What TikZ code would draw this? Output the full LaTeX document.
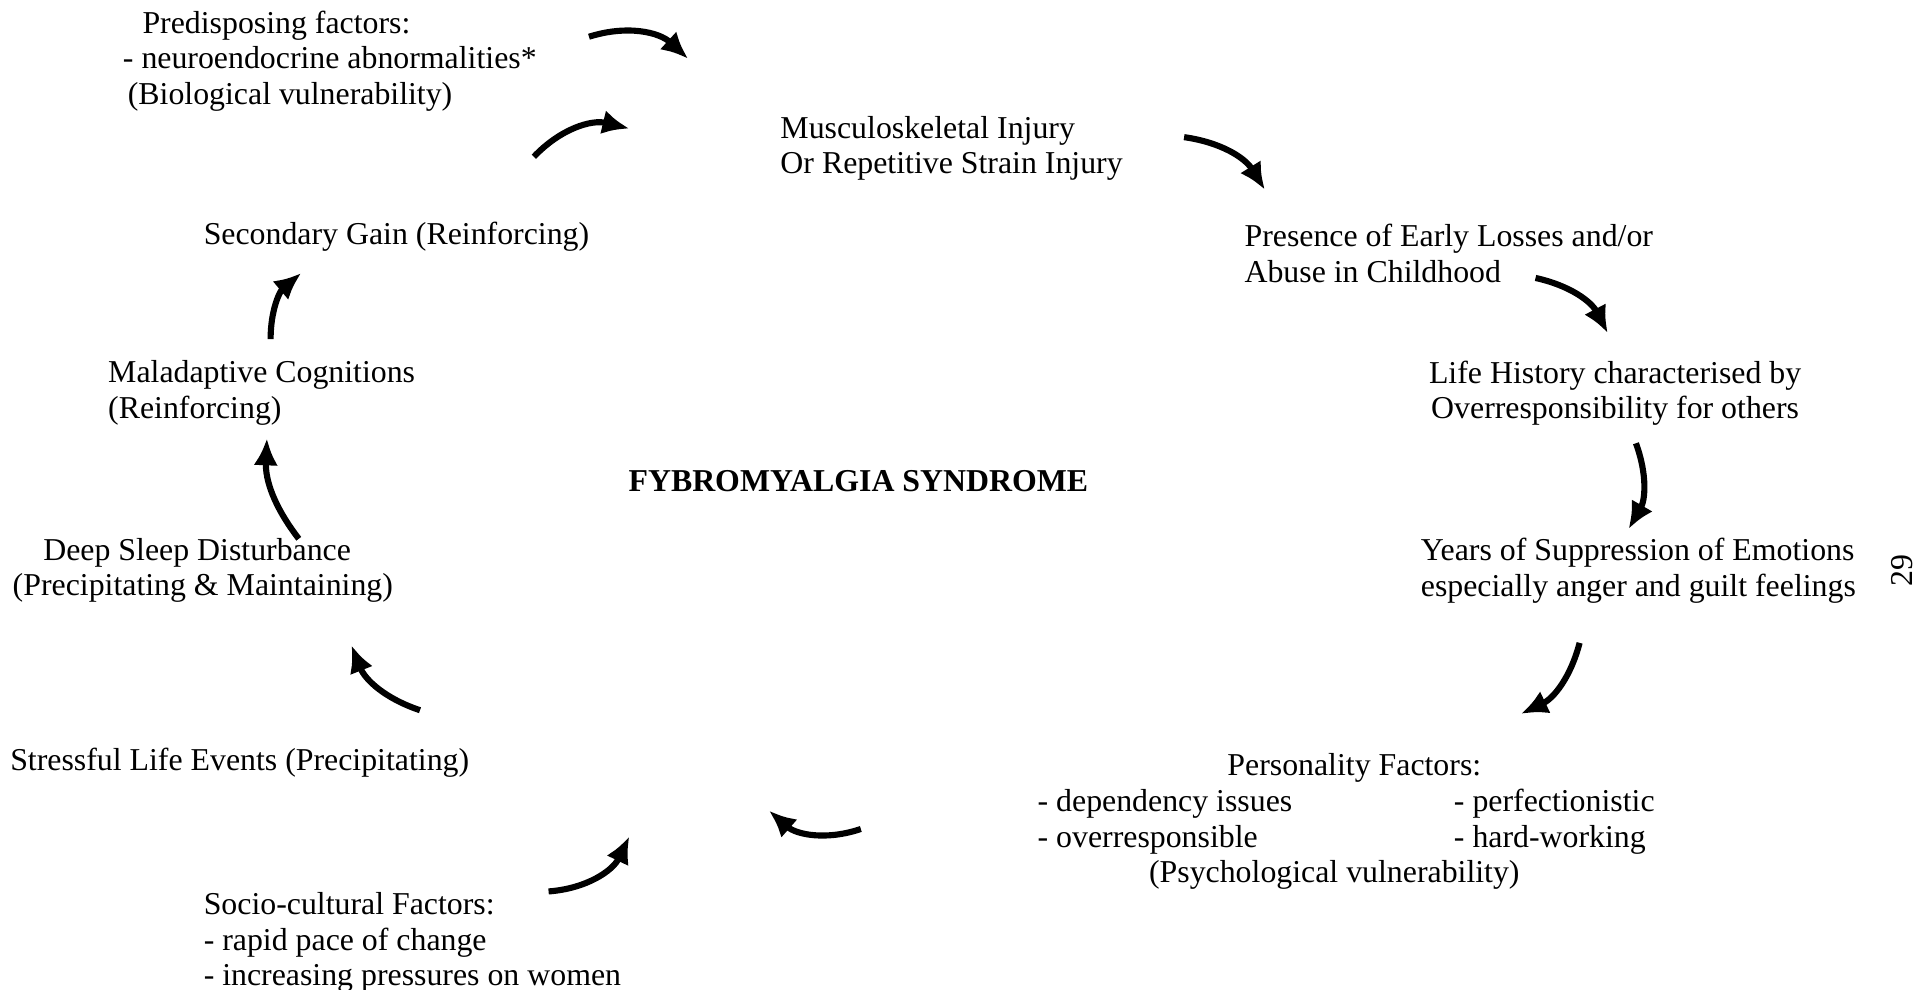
\documentclass[tikz,border=0pt]{standalone}
\usepackage{fontspec}
\setmainfont{Liberation Serif}
\usetikzlibrary{arrows.meta}
\begin{document}
\begin{tikzpicture}[x=0.5pt,y=-0.5pt,
    txt/.style={font=\fontsize{13pt}{14.5pt}\selectfont, inner sep=0pt, align=left, anchor=west},
    cyc/.style={line width=2.5pt, -{Latex[length=11pt,width=10pt]}}]
    \useasboundingbox (0,0) rectangle (1568,808);
    % texts round the cycle
    \node[txt] (pre) at (100,50) {\hspace*{8pt}Predisposing factors:\\- neuroendocrine abnormalities*\\\hspace*{2pt}(Biological vulnerability)};
    \node[txt] (musc) at (637,121) {Musculoskeletal Injury\\Or Repetitive Strain Injury};
    \node[txt] (pres) at (1016,207) {Presence of Early Losses and/or\\Abuse in Childhood};
    \node[txt, align=center, anchor=center] (life) at (1319,321) {Life History characterised by\\Overresponsibility for others};
    \node[txt] (years) at (1160,466) {Years of Suppression of Emotions\\especially anger and guilt feelings};
    \node[txt] (pers) at (847,671) {\hspace*{77.5pt}Personality Factors:\\
        \makebox[170pt][l]{- dependency issues}- perfectionistic\\
        \makebox[170pt][l]{- overresponsible}- hard-working\\
        \hspace*{45.5pt}(Psychological vulnerability)};
    \node[txt] (socio) at (166,770) {Socio-cultural Factors:\\- rapid pace of change\\- increasing pressures on women};
    \node[txt] (stress) at (8,623) {Stressful Life Events (Precipitating)};
    \node[txt] (deep) at (10,466) {\hspace*{12.5pt}Deep Sleep Disturbance\\(Precipitating \& Maintaining)};
    \node[txt] (mal) at (88,321) {Maladaptive Cognitions\\(Reinforcing)};
    \node[txt] (sec) at (166,193) {Secondary Gain (Reinforcing)};
    \node[txt, anchor=center, font=\fontsize{13pt}{14.5pt}\selectfont\bfseries] (fms) at (701,393) {FYBROMYALGIA SYNDROME};
    \node[txt, anchor=center, rotate=90] (pg) at (1553,466) {29};
    % arrow ends
    \coordinate (a1) at (481,30);   \coordinate (b1) at (562,48);
    \coordinate (a2) at (436,128);  \coordinate (b2) at (514,105);
    \coordinate (a3) at (967,112);  \coordinate (b3) at (1033,155);
    \coordinate (a4) at (1254,227); \coordinate (b4) at (1313,272);
    \coordinate (a5) at (1336,362); \coordinate (b5) at (1330,432);
    \coordinate (a6) at (1290,525); \coordinate (b6) at (1242,583);
    \coordinate (a7) at (703,677);  \coordinate (b7) at (628,662);
    \coordinate (a8) at (448,728);  \coordinate (b8) at (514,683);
    \coordinate (a9) at (343,580);  \coordinate (b9) at (287,527);
    \coordinate (a10) at (244,440); \coordinate (b10) at (218,358);
    \coordinate (a11) at (221,277); \coordinate (b11) at (246,223);
    \draw[cyc] (a1) to[bend left=30] (b1);
    \draw[cyc] (a2) to[bend left=30] (b2);
    \draw[cyc] (a3) to[bend left=25] (b3);
    \draw[cyc] (a4) to[bend left=25] (b4);
    \draw[cyc] (a5) to[bend left=25] (b5);
    \draw[cyc] (a6) to[bend left=25] (b6);
    \draw[cyc] (a7) to[bend left=30] (b7);
    \draw[cyc] (a8) to[bend right=30] (b8);
    \draw[cyc] (a9) to[bend left=25] (b9);
    \draw[cyc] (a10) to[bend left=20] (b10);
    \draw[cyc] (a11) to[bend left=25] (b11);
\end{tikzpicture}
\end{document}
